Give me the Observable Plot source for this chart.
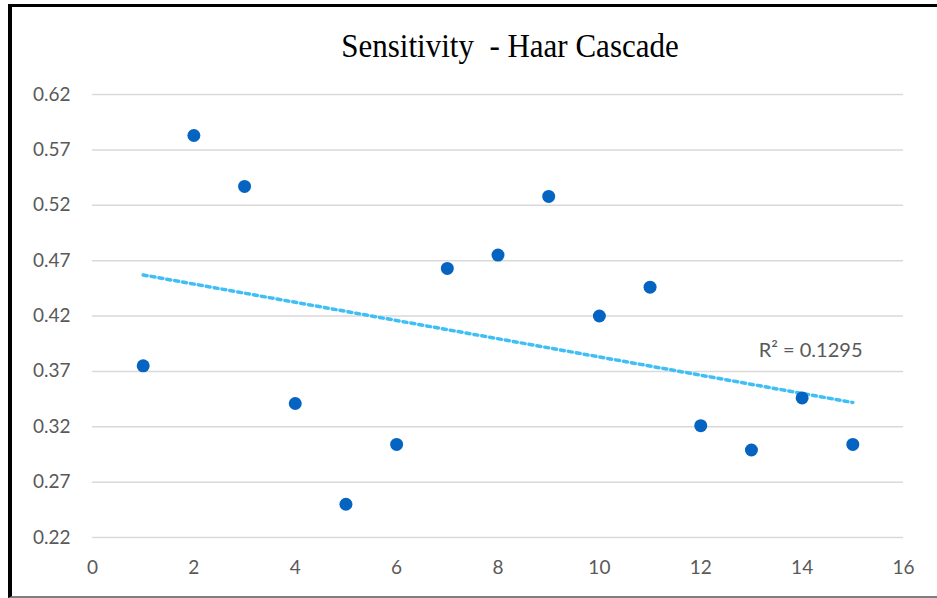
<!DOCTYPE html>
<html>
<head>
<meta charset="utf-8">
<script src="https://cdn.jsdelivr.net/npm/d3@7"></script>
<script src="https://cdn.jsdelivr.net/npm/@observablehq/plot@0.6"></script>
<style>
  html, body { margin: 0; padding: 0; background: #fff; }
  #wrap { position: relative; width: 937px; height: 598px; overflow: hidden; }
  #frame { position: absolute; left: 8px; top: 4px; width: 929px; height: 594px;
           border-left: 4px solid #000; border-top: 3px solid #000; border-bottom: 2px solid #7f7f7f;
           box-sizing: border-box; pointer-events: none; }
  #title { position: absolute; left: 0; width: 1020px; top: 26px; text-align: center;
           font-family: "Liberation Serif", "Times New Roman", serif; font-size: 31px;
           color: #000; white-space: pre; transform: scaleY(1.12); transform-origin: 50% 0; }
  #chart { position: absolute; left: 0; top: 0; }
</style>
</head>
<body>
<div id="wrap">
  <div id="chart"></div>
  <div id="frame"></div>
  <div id="title">Sensitivity  - Haar Cascade</div>
</div>
<script>
const xValues = [1, 2, 3, 4, 5, 6, 7, 8, 9, 10, 11, 12, 13, 14, 15];
const sensitivity = [0.375, 0.583, 0.537, 0.341, 0.250, 0.304, 0.463, 0.475, 0.528, 0.420, 0.446, 0.321, 0.299, 0.346, 0.304];
const xTicks = [0, 2, 4, 6, 8, 10, 12, 14, 16];
const yTicks = [0.22, 0.27, 0.32, 0.37, 0.42, 0.47, 0.52, 0.57, 0.62];
const rSquaredLabel = "R² = 0.1295";

const data = xValues.map((x, i) => ({x, y: sensitivity[i]}));
const font = "Lato, 'Open Sans', sans-serif";

const chart = Plot.plot({
  width: 937,
  height: 598,
  marginLeft: 92,
  marginRight: 34,
  marginTop: 94,
  marginBottom: 61,
  style: {fontFamily: font, background: "transparent"},
  x: {domain: [0, 16], ticks: xTicks},
  y: {domain: [0.22, 0.62], ticks: yTicks},
  marks: [
    Plot.gridY(yTicks, {stroke: "#d9d9d9", strokeWidth: 1.5, strokeOpacity: 1}),
    Plot.axisY(yTicks, {tickSize: 0, tickPadding: 22, label: null, fontSize: 19, fill: "#595959",
      tickFormat: d => d.toFixed(2)}),
    Plot.axisX(xTicks, {tickSize: 0, tickPadding: 23, label: null, fontSize: 19, fill: "#595959"}),
    Plot.linearRegressionY(data, {x: "x", y: "y", ci: 0, stroke: "#3fbff5", strokeWidth: 3.5,
      strokeDasharray: "4,4"}),
    Plot.dot(data, {x: "x", y: "y", r: 6.5, fill: "#0563c1", stroke: null}),
    Plot.text([rSquaredLabel], {frameAnchor: "top-right", dx: -41, dy: 248, text: d => d,
      fontSize: 20, fill: "#595959", textAnchor: "end"})
  ]
});
document.getElementById("chart").appendChild(chart);
</script>
</body>
</html>
